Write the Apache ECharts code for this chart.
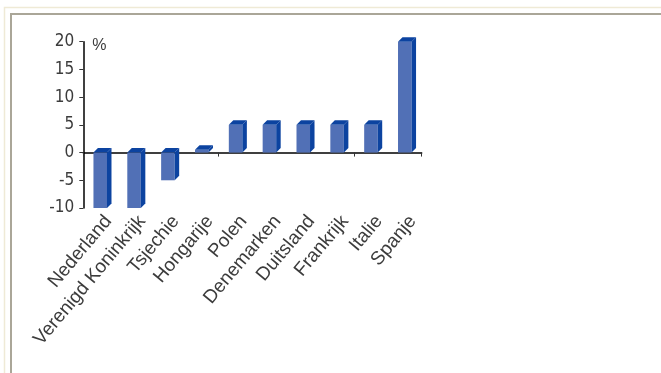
<!DOCTYPE html>
<html>
<head>
<meta charset="utf-8">
<script src="https://cdn.jsdelivr.net/npm/echarts@6/dist/echarts.min.js"></script>
<style>html,body{margin:0;padding:0;background:#fff}#c{width:661px;height:373px}</style>
</head>
<body>
<div id="c"></div>
<script>
const categories = ['Nederland', 'Verenigd Koninkrijk', 'Tsjechie', 'Hongarije', 'Polen', 'Denemarken', 'Duitsland', 'Frankrijk', 'Italie', 'Spanje'];
const values = [-10, -10, -5, 0.5, 5, 5, 5, 5, 5, 20];
const yMin = -10, yMax = 20, yStep = 5;
const yUnit = '%';

const FRONT = '#5170b6';
const DARK = '#0c43a0';
const TEXT = '#3c3c3c';

const chart = echarts.init(document.getElementById('c'), null, {renderer: 'canvas'});

function renderItem(params, api) {
  const i = api.value(0), v = api.value(1);
  const pv = api.coord([i, v]);
  const p0 = api.coord([i, 0]);
  const band = api.size([1, 0])[0];
  const w = band * 0.4;
  const d = 4.5;
  const xl = pv[0] - w / 2, xr = pv[0] + w / 2;
  const yt = Math.min(pv[1], p0[1]), yb = Math.max(pv[1], p0[1]);
  return {
    type: 'group',
    children: [
      {type: 'rect', shape: {x: xl, y: yt, width: w, height: yb - yt}, style: {fill: FRONT}},
      {type: 'polygon', shape: {points: [[xr, yt], [xr + d, yt - d], [xr + d, yb - d], [xr, yb]]}, style: {fill: DARK}},
      {type: 'polygon', shape: {points: [[xl, yt], [xl + d, yt - d], [xr + d, yt - d], [xr, yt]]}, style: {fill: DARK}}
    ]
  };
}

const gridL = 83.3, gridR = 239.3, gridT = 41.7, gridB = 165;
const shift = 8;

chart.setOption({
  animation: false,
  backgroundColor: '#ffffff',
  graphic: [
    {type: 'polyline', shape: {points: [[4.5, 373], [4.5, 7.5], [661, 7.5]]}, style: {stroke: '#efead6', lineWidth: 1.5, fill: null}, silent: true},
    {type: 'polyline', shape: {points: [[11, 373], [11, 14], [661, 14]]}, style: {stroke: '#aaa698', lineWidth: 2, fill: null}, silent: true}
  ],
  grid: [
    {left: gridL, right: gridR, top: gridT, bottom: gridB},
    {left: gridL + shift, right: gridR - shift, top: gridT, bottom: gridB}
  ],
  xAxis: [
    {
      type: 'category', gridIndex: 0, data: categories,
      axisLine: {onZero: true, lineStyle: {color: '#000', width: 1.5}},
      axisTick: {show: true, length: 4, lineStyle: {color: '#333', width: 1}},
      axisLabel: {show: false},
      splitLine: {show: false}
    },
    {
      type: 'category', gridIndex: 1, data: categories,
      axisLine: {show: false, onZero: false},
      axisTick: {show: false},
      axisLabel: {show: true, rotate: 50, margin: 10, interval: 0, color: TEXT, fontFamily: 'Liberation Sans', fontSize: 19},
      splitLine: {show: false}
    }
  ],
  yAxis: [
    {
      type: 'value', gridIndex: 0, min: yMin, max: yMax, interval: yStep,
      name: yUnit, nameLocation: 'end', nameGap: 0,
      nameTextStyle: {color: TEXT, fontFamily: 'Liberation Sans', fontSize: 16, align: 'left', verticalAlign: 'top', padding: [-4, 0, 0, 9]},
      axisLine: {show: true, lineStyle: {color: '#000', width: 1.5}},
      axisTick: {show: true, length: 4, lineStyle: {color: '#333'}},
      axisLabel: {color: TEXT, fontFamily: "'Liberation Sans Narrow', 'DejaVu Sans Condensed', 'Liberation Sans', sans-serif", fontSize: 17, margin: 9},
      splitLine: {show: false}
    },
    {
      type: 'value', gridIndex: 1, min: yMin, max: yMax, interval: yStep, show: false
    }
  ],
  series: [{
    type: 'custom',
    xAxisIndex: 0, yAxisIndex: 0,
    renderItem: renderItem,
    data: values.map((v, i) => [i, v]),
    encode: {x: 0, y: 1}
  }]
});
</script>
</body>
</html>
